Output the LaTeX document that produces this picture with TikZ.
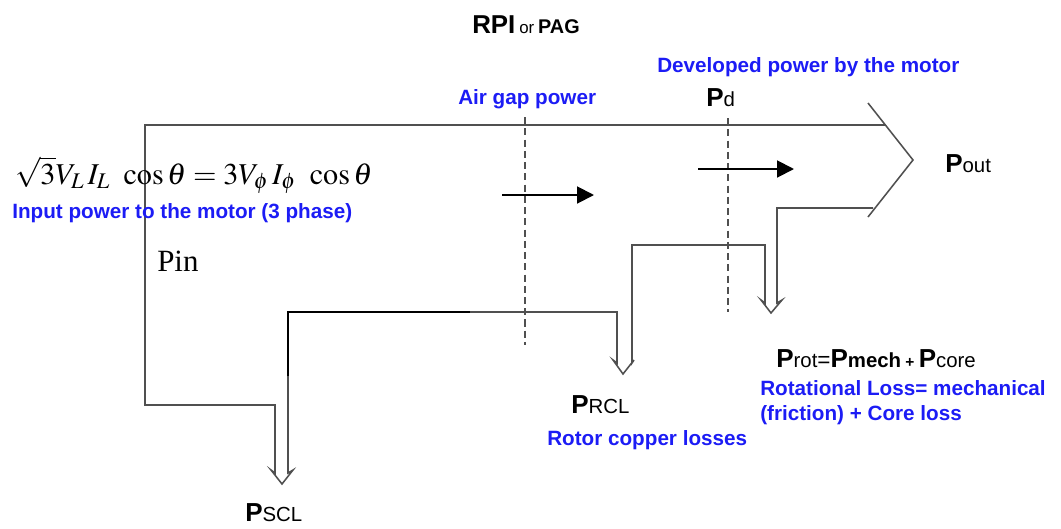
\documentclass[tikz,border=0pt]{standalone}
\usepackage{mathptmx}
\usepackage[no-math]{fontspec}
\setmainfont{Liberation Sans}
\newfontfamily\timesfont{Liberation Serif}
\usepackage{tikz}
\usetikzlibrary{arrows.meta}

\definecolor{lossblue}{RGB}{28,28,245}
\definecolor{linegray}{RGB}{80,80,80}

% big P with a smaller tail
\newcommand{\powP}[1]{{\fontsize{18.5}{20}\selectfont\bfseries P}{\fontsize{14.5}{16}\selectfont #1}}

\begin{document}
\begin{tikzpicture}[x=0.025cm, y=-0.025cm,
    channel/.style={draw=linegray, line width=1.1pt, line join=miter},
    cut/.style={draw=linegray, line width=1.1pt, dash pattern=on 5pt off 3pt},
    arr/.style={-{Triangle[length=12pt, width=12pt]}, line width=1.4pt},
    note/.style={font=\fontsize{14.7}{16}\selectfont\bfseries, text=lossblue, inner sep=0pt, anchor=base west, align=left},
    lbl/.style={inner sep=0pt, anchor=base west},
  ]
    \useasboundingbox (0,0) rectangle (1061,528);

    % Power flow channel with the three loss taps
    \draw[channel] (885,125) -- (145,125) -- (145,405) -- (275,405)
      -- (275,473) -- (271,470) -- (282,484) -- (293,470) -- (288,473)
      -- (288,312) -- (617,312)
      -- (617,363) -- (613,360) -- (623,374) -- (634,360) -- (632,363)
      -- (632,245) -- (765,245)
      -- (765,303) -- (761,300) -- (771,313) -- (782,300) -- (777,303)
      -- (777,208) -- (873,208);
    \draw[black, line width=1.6pt] (288,376) -- (288,312) -- (470,312);

    % Output head
    \draw[channel] (868,103) -- (913,160) -- (868,217);

    % Cuts: air gap and developed power
    \coordinate (agtop) at (525,117);
    \coordinate (agbot) at (525,345);
    \coordinate (pdtop) at (728,118);
    \coordinate (pdbot) at (728,312);
    \draw[cut] (agtop) -- (agbot);
    \draw[cut] (pdtop) -- (pdbot);

    % Flow arrows
    \coordinate (ag1) at (502,195);
    \coordinate (ag2) at (594,195);
    \coordinate (pd1) at (698,169);
    \coordinate (pd2) at (794,169);
    \draw[arr] (ag1) -- (ag2);
    \draw[arr] (pd1) -- (pd2);

    % Top labels
    \node[lbl] (rpi) at (472,33) {{\fontsize{18.4}{20}\selectfont\bfseries RPI}~{\fontsize{12}{14}\selectfont or}~{\fontsize{14.1}{16}\selectfont\bfseries PAG}};
    \node[note] (devtxt) at (657,72) {Developed power by the motor};
    \node[note] (agtxt) at (458,104) {Air gap power};
    \node[lbl] (pd) at (706,106) {\powP{d}};
    \node[lbl] (pout) at (945,172) {\powP{out}};

    % Input
    \node[lbl, font=\fontsize{21.5}{24}\selectfont] (pineq) at (15,184)
      {$\sqrt{3}V_L\,I_L\;\,\cos\theta = 3V_\phi\,I_\phi\;\,\cos\theta$};
    \node[note] (intxt) at (12,218) {Input power to the motor (3 phase)};
    \node[lbl, font=\timesfont\fontsize{22}{24}\selectfont] (pin) at (157,271) {Pin};

    % Losses
    \node[lbl] (prot) at (776,367) {\powP{rot}{\fontsize{16}{16}\selectfont=}\powP{\bfseries mech}{\fontsize{11}{13}\selectfont\bfseries\ + }\powP{core}};
    \node[note] (rottxt) at (760,395) {Rotational Loss= mechanical};
    \node[note] (fritxt) at (760,420) {(friction) + Core loss};
    \node[lbl] (prcl) at (571,413) {\powP{RCL}};
    \node[note] (rcltxt) at (547,445) {Rotor copper losses};
    \node[lbl] (pscl) at (245,521) {\powP{SCL}};

  \end{tikzpicture}
\end{document}
